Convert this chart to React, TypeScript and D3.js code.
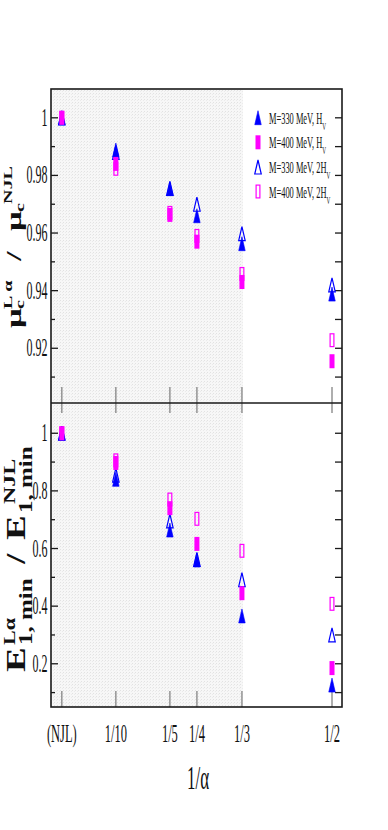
import React from "react";
import * as d3 from "d3";

// ---- data ----
const xVals = [0, 0.1, 0.2, 0.25, 1 / 3, 0.5];
const xLabels = ["(NJL)", "1/10", "1/5", "1/4", "1/3", "1/2"];

// top panel: mu_c^{L alpha} / mu_c^{NJL}
const muTriFilled = [1.0, 0.9888, 0.9754, 0.966, 0.9563, 0.9388];
const muSqFilled = [1.0, 0.984, 0.9663, 0.957, 0.943, 0.9155];
const muTriOpen = [1.0, 0.988, 0.9755, 0.97, 0.9598, 0.942];
const muSqOpen = [1.0, 0.9823, 0.967, 0.959, 0.9458, 0.9228];

// bottom panel: E_{1,min}^{L alpha} / E_{1,min}^{NJL}
const eTriFilled = [1.0, 0.84, 0.664, 0.56, 0.366, 0.126];
const eSqFilled = [1.0, 0.897, 0.74, 0.616, 0.445, 0.185];
const eTriOpen = [1.0, 0.855, 0.696, 0.562, 0.492, 0.3];
const eSqOpen = [1.0, 0.906, 0.77, 0.703, 0.592, 0.408];

const topMajor = [0.92, 0.94, 0.96, 0.98, 1];
const topMinor = [0.91, 0.93, 0.95, 0.97, 0.99];
const topLabels = ["0.92", "0.94", "0.96", "0.98", "1"];
const botMajor = [0.2, 0.4, 0.6, 0.8, 1];
const botMinor = [0.1, 0.3, 0.5, 0.7, 0.9];
const botLabels = ["0.2", "0.4", "0.6", "0.8", "1"];

const legendNames = ["M=330 MeV, H", "M=400 MeV, H", "M=330 MeV, 2H", "M=400 MeV, 2H"];

// ---- layout ----
const L = 51, R = 342, T = 89, MID = 403, B = 707;
const BLUE = "#0000ff";
const MAG = "#ff00ff";
const FONT = "'Liberation Serif', 'Times New Roman', serif";
const AX = "#1a1a1a";

const xScale = d3.scaleLinear().domain([-0.02, 0.5185]).range([L, R]);
const yTop = d3.scaleLinear().domain([0.901, 1.01]).range([MID, T]);
const yBot = d3.scaleLinear().domain([0.05, 1.105]).range([B, MID]);

type Series = { shape: "tri" | "sq"; filled: boolean; color: string; top: number[]; bot: number[]; legend: number };
const series: Series[] = [
  { shape: "tri", filled: false, color: BLUE, top: muTriOpen, bot: eTriOpen, legend: 2 },
  { shape: "sq", filled: false, color: MAG, top: muSqOpen, bot: eSqOpen, legend: 3 },
  { shape: "tri", filled: true, color: BLUE, top: muTriFilled, bot: eTriFilled, legend: 0 },
  { shape: "sq", filled: true, color: MAG, top: muSqFilled, bot: eSqFilled, legend: 1 },
];

function Marker({ shape, filled, color, x, y }: { shape: string; filled: boolean; color: string; x: number; y: number }) {
  if (shape === "tri") {
    const w = 6.5, h = 14;
    const p = d3.path();
    p.moveTo(x, y - h / 2);
    p.lineTo(x + w / 2, y + h / 2);
    p.lineTo(x - w / 2, y + h / 2);
    p.closePath();
    return <path d={p.toString()} fill={filled ? color : "none"} stroke={color} strokeWidth={filled ? 0.6 : 1.2} />;
  }
  const w = 5, h = 14;
  return filled ? (
    <rect x={x - w / 2} y={y - h / 2} width={w} height={h} fill={color} />
  ) : (
    <rect x={x - w / 2 + 0.6} y={y - h / 2 + 0.6} width={w - 1.2} height={h - 1.2} fill="none" stroke={color} strokeWidth={1.2} />
  );
}

function STxt({ x, y, size, sx, anchor, children, weight }: any) {
  return (
    <text
      transform={`translate(${x},${y}) scale(${sx},1)`}
      fontSize={size}
      fontFamily={FONT}
      textAnchor={anchor || "start"}
      fontWeight={weight || "normal"}
      fill="#111"
    >
      {children}
    </text>
  );
}

function Panel({ y, major, minor, labels, which }: any) {
  const [y0, y1] = y.range();
  return (
    <g>
      <rect x={L} y={y1} width={xScale(1 / 3) + 1 - L} height={y0 - y1} fill="url(#shade)" />
      {major.map((v: number) => (
        <line key={"ma" + v} x1={L} x2={L + 7} y1={y(v)} y2={y(v)} stroke={AX} strokeWidth={1.3} />
      ))}
      {minor.map((v: number) => (
        <line key={"mi" + v} x1={L} x2={L + 4} y1={y(v)} y2={y(v)} stroke={AX} strokeWidth={1.3} />
      ))}
      {[...major, ...minor].map((v: number) => (
        <line key={"r" + v} x1={R - 7} x2={R} y1={y(v)} y2={y(v)} stroke={AX} strokeWidth={1.3} />
      ))}
      {major.map((v: number, i: number) => (
        <STxt key={"l" + v} x={47.5} y={y(v) + 8} size={25} sx={0.48} anchor="end">
          {labels[i]}
        </STxt>
      ))}
      {xVals.map((v, i) =>
        which === "top" ? (
          <line key={"xt" + i} x1={xScale(v)} x2={xScale(v)} y1={MID} y2={MID - 16} stroke="#8c8c8c" strokeWidth={1.4} />
        ) : (
          <g key={"xt" + i}>
            <line x1={xScale(v)} x2={xScale(v)} y1={MID} y2={MID + 10} stroke="#8c8c8c" strokeWidth={1.4} />
            <line x1={xScale(v)} x2={xScale(v)} y1={B} y2={B - 16} stroke="#8c8c8c" strokeWidth={1.4} />
          </g>
        )
      )}
      {series.map((s, si) =>
        (which === "top" ? s.top : s.bot).map((v, i) => (
          <Marker key={si + "-" + i} shape={s.shape} filled={s.filled} color={s.color} x={xScale(xVals[i])} y={y(v)} />
        ))
      )}
    </g>
  );
}

function TopTitle() {
  const k = 0.62;
  return (
    <g transform={`translate(21,328) rotate(-90) scale(1,${k})`} fontFamily={FONT} fontWeight="bold" fill="#111">
      <text x={0} y={0} fontSize={35}>μ</text>
      <text x={19} y={5} fontSize={20}>c</text>
      <text x={19} y={-15} fontSize={20}>L α</text>
      <text x={67} y={0} fontSize={35}>/</text>
      <text x={97} y={0} fontSize={35}>μ</text>
      <text x={116} y={5} fontSize={20}>c</text>
      <text x={124} y={-15} fontSize={20}>NJL</text>
    </g>
  );
}

function BotTitle() {
  const k = 0.74;
  return (
    <g transform={`translate(25,672) rotate(-90) scale(1,${k})`} fontFamily={FONT} fontWeight="bold" fill="#111">
      <text x={0} y={0} fontSize={37}>E</text>
      <text x={27} y={9.5} fontSize={25}>1, min</text>
      <text x={27} y={-13.5} fontSize={22}>Lα</text>
      <text x={108} y={0} fontSize={37}>/</text>
      <text x={132} y={0} fontSize={37}>E</text>
      <text x={159} y={9.5} fontSize={25}>1, min</text>
      <text x={168} y={-13.5} fontSize={24}>NJL</text>
    </g>
  );
}

function Legend() {
  const rows = [117.7, 142.3, 167, 191.5];
  const byLegend = [...series].sort((a, b) => a.legend - b.legend);
  return (
    <g>
      {byLegend.map((s, i) => (
        <g key={i}>
          <Marker shape={s.shape} filled={s.filled} color={s.color} x={258} y={rows[i]} />
          <text transform={`translate(269,${rows[i] + 6}) scale(0.48,1)`} fontSize={17.5} fontFamily={FONT} fill="#111">
            {legendNames[i]}
            <tspan dy={6} fontSize={11}>V</tspan>
          </text>
        </g>
      ))}
    </g>
  );
}

export default function App() {
  return (
    <svg width={388} height={830} style={{ position: "absolute", left: 0, top: 0, background: "#fff" }}>
      <defs>
        <pattern id="shade" width={3} height={3} patternUnits="userSpaceOnUse">
          <rect width={3} height={3} fill="#f7f7f7" />
          <rect width={1} height={1} fill="#e2e2e2" />
          <rect x={2} y={1} width={1} height={1} fill="#ebebeb" />
        </pattern>
      </defs>
      <rect width={388} height={830} fill="#fff" />
      <Panel y={yTop} major={topMajor} minor={topMinor} labels={topLabels} which="top" />
      <Panel y={yBot} major={botMajor} minor={botMinor} labels={botLabels} which="bot" />
      <rect x={L} y={T} width={R - L} height={B - T} fill="none" stroke={AX} strokeWidth={1.6} />
      <line x1={L} x2={R} y1={MID} y2={MID} stroke={AX} strokeWidth={1.6} />
      {xVals.map((v, i) => (
        <STxt key={i} x={xScale(v)} y={741.5} size={25} sx={0.5} anchor="middle">
          {xLabels[i]}
        </STxt>
      ))}
      <STxt x={198} y={789} size={34} sx={0.5} anchor="middle">1/α</STxt>
      <TopTitle />
      <BotTitle />
      <Legend />
    </svg>
  );
}
